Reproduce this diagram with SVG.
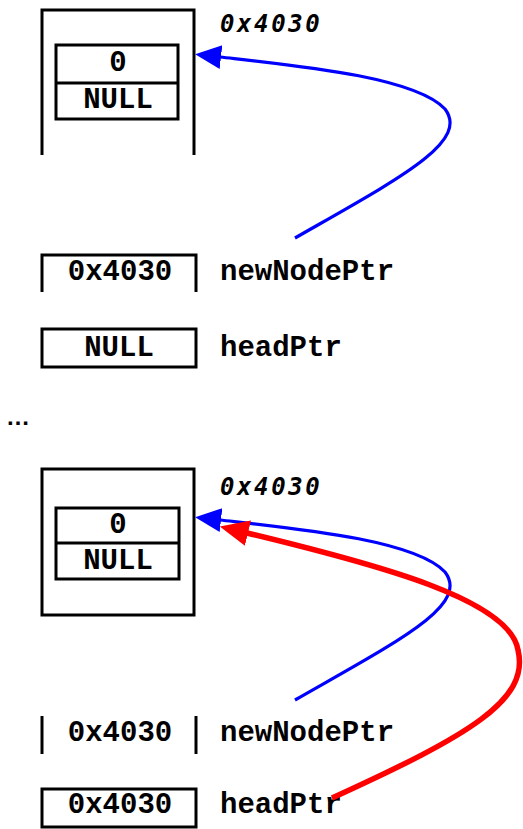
<svg xmlns="http://www.w3.org/2000/svg" width="523" height="829" viewBox="0 0 523 829">
<style>
.box{fill:none;stroke:#000;stroke-width:3}
.t{font-family:"Liberation Mono","Courier New",monospace;font-weight:bold;font-size:29px;fill:#000}
.c{text-anchor:middle}
.addr{font-family:"DejaVu Sans Mono",monospace;font-weight:bold;font-style:italic;font-size:24px;letter-spacing:2.6px;fill:#000}
.blue{fill:none;stroke:#0000ff;stroke-width:3.2}
.red{fill:none;stroke:#ff0000;stroke-width:5.5}
</style>
<defs>
<marker id="hb" markerUnits="userSpaceOnUse" markerWidth="30" markerHeight="30" refX="1" refY="12" orient="auto" viewBox="0 0 30 24"><path d="M0,0 L26,12 L0,24 z" fill="#0000ff"/></marker>
<marker id="hr" markerUnits="userSpaceOnUse" markerWidth="32" markerHeight="32" refX="1" refY="13" orient="auto" viewBox="0 0 32 26"><path d="M0,0 L29,13 L0,26 z" fill="#ff0000"/></marker>
</defs>
<g id="node-top">
<path class="box" d="M42,155 V10 H194 V155"/>
<rect class="box" x="56" y="45" width="122" height="74"/>
<line class="box" x1="56" y1="83" x2="178" y2="83"/>
<text class="t c" x="118" y="71">0</text>
<text class="t c" x="118" y="108">NULL</text>
<text class="addr" x="220" y="32">0x4030</text>
</g>
<g id="newNodePtr-top">
<path class="box" d="M42,292 V255 H196 V292"/>
<text class="t c" x="120" y="280">0x4030</text>
<text class="t" x="220" y="280">newNodePtr</text>
</g>
<g id="headPtr-top">
<rect class="box" x="42" y="329" width="154" height="38"/>
<text class="t c" x="119" y="356">NULL</text>
<text class="t" x="220" y="356">headPtr</text>
</g>
<text id="ellipsis" x="6" y="425" font-family="Liberation Sans, Arial, sans-serif" font-weight="bold" font-size="24">…</text>
<g id="node-bottom">
<rect class="box" x="42" y="469" width="152" height="146"/>
<rect class="box" x="56" y="508" width="123" height="71"/>
<line class="box" x1="56" y1="543" x2="179" y2="543"/>
<text class="t c" x="118" y="533">0</text>
<text class="t c" x="118" y="569">NULL</text>
<text class="addr" x="220" y="495">0x4030</text>
</g>
<g id="newNodePtr-bottom">
<line class="box" x1="42" y1="716" x2="42" y2="754"/>
<line class="box" x1="196" y1="716" x2="196" y2="754"/>
<text class="t c" x="120" y="741">0x4030</text>
<text class="t" x="220" y="741">newNodePtr</text>
</g>
<g id="headPtr-bottom">
<rect class="box" x="42" y="789" width="154" height="38"/>
<text class="t c" x="120" y="813">0x4030</text>
<text class="t" x="220" y="813">headPtr</text>
</g>
<g id="connectors">
<path class="blue" marker-end="url(#hb)" d="M295,238 C400,178 470,142 445,109 C415,77 300,66 220,57"/>
<path class="blue" marker-end="url(#hb)" d="M295,700 C400,640 470,605 445,572 C415,540 300,529 220,520"/>
<path class="red" marker-end="url(#hr)" d="M332,798 C470,735 530,700 518,650 C510,600 380,565 247,533"/>
</g>
</svg>
